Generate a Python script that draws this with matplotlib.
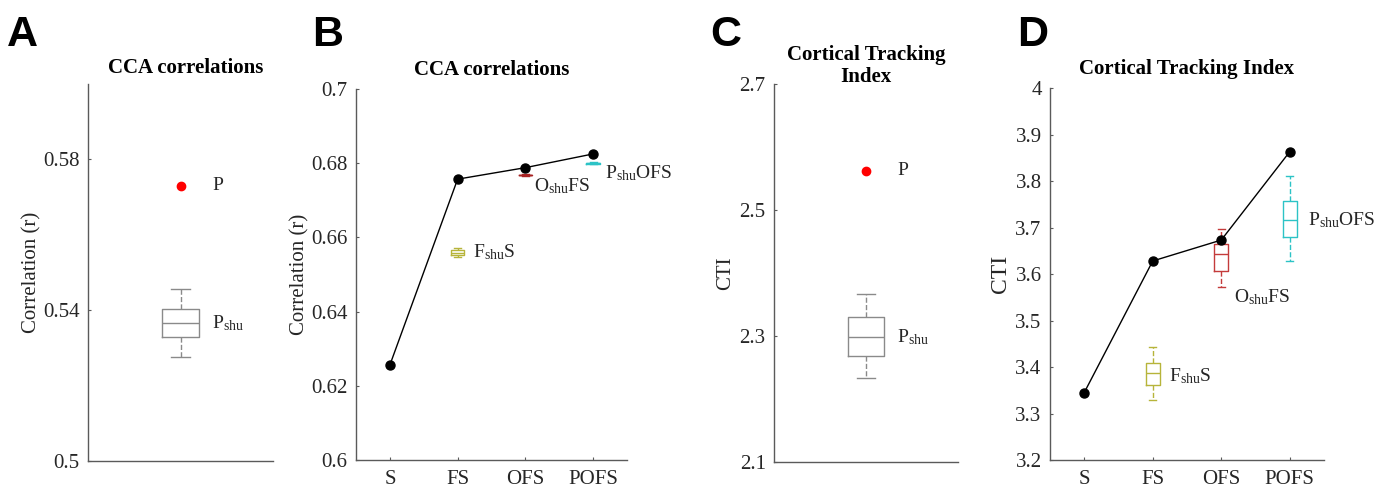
import numpy as np
import matplotlib
matplotlib.use("Agg")
import matplotlib.pyplot as plt

plt.rcParams['font.family'] = ['Liberation Serif', 'DejaVu Serif']
plt.rcParams['mathtext.fontset'] = 'custom'
plt.rcParams['mathtext.rm'] = 'Liberation Serif'
plt.rcParams['mathtext.it'] = 'Liberation Serif:italic'

# ---- data ----
conds = ['S', 'FS', 'OFS', 'POFS']

# A: CCA correlations, intact vs shuffled
cca_P = 0.573
cca_Pshu = dict(whislo=0.5275, q1=0.5328, med=0.5366, q3=0.5403, whishi=0.5456)

# B: CCA correlations per condition
cca_cond = [0.6256, 0.6757, 0.6788, 0.6825]
cca_FshuS = dict(whislo=0.6548, q1=0.6553, med=0.6559, q3=0.6565, whishi=0.6572)
cca_OshuFS = dict(whislo=0.6766, q1=0.6767, med=0.6768, q3=0.6769, whishi=0.6770)
cca_PshuOFS = dict(whislo=0.6798, q1=0.6799, med=0.6800, q3=0.6801, whishi=0.6802)

# C: CTI, intact vs shuffled
cti_P = 2.562
cti_Pshu = dict(whislo=2.233, q1=2.268, med=2.298, q3=2.330, whishi=2.367)

# D: CTI per condition
cti_cond = [3.345, 3.628, 3.673, 3.863]
cti_FshuS = dict(whislo=3.328, q1=3.361, med=3.388, q3=3.409, whishi=3.444)
cti_OshuFS = dict(whislo=3.572, q1=3.607, med=3.643, q3=3.665, whishi=3.697)
cti_PshuOFS = dict(whislo=3.627, q1=3.680, med=3.716, q3=3.758, whishi=3.811)

gray = '#8a8a8a'
olive = '#b7b43a'
red = '#c43b3b'
red_dark = '#a82323'
cyan = '#2cc3c6'
spine_c = '#5a5a5a'
txt_c = '#262626'

fig = plt.figure(figsize=(13.87, 4.9), dpi=100)


def style(ax, fs=15):
    for s in ['top', 'right']:
        ax.spines[s].set_visible(False)
    for s in ['left', 'bottom']:
        ax.spines[s].set_color(spine_c)
        ax.spines[s].set_linewidth(1.0)
    ax.tick_params(direction='in', length=2.5, width=0.8, color=spine_c,
                   labelsize=fs, labelcolor=txt_c, pad=6)
    ax.tick_params(axis='x', pad=7)


def box(ax, pos, st, color, width):
    d = dict(st)
    d['fliers'] = []
    ax.bxp([d], positions=[pos], widths=width, capwidths=width / 2,
           showfliers=False, manage_ticks=False,
           boxprops=dict(color=color, lw=1.0),
           medianprops=dict(color=color, lw=1.0),
           whiskerprops=dict(color=color, lw=1.0, ls='--'),
           capprops=dict(color=color, lw=1.0))


def letter(x, y, s):
    fig.text(x / 1387, 1 - y / 490, s, fontsize=31, fontweight='bold',
             family='Liberation Sans', ha='left', va='center', color='black')


# ---- A ----
axA = fig.add_axes([88 / 1387, 1 - 461 / 490, 185 / 1387, 377 / 490])
style(axA)
axA.set_xlim(0, 2)
axA.set_ylim(0.5, 0.6)
axA.set_yticks([0.5, 0.54, 0.58])
axA.set_yticklabels(['0.5', '0.54', '0.58'])
axA.set_xticks([])
axA.plot([1], [cca_P], 'o', color='#ff0000', ms=6)
box(axA, 1, cca_Pshu, gray, 0.4)
axA.text(1.34, cca_P, 'P', fontsize=14, va='center', color=txt_c)
axA.text(1.34, cca_Pshu['med'], r'P$_{\mathrm{shu}}$', fontsize=14, va='center', color=txt_c)
axA.set_ylabel('Correlation (r)', fontsize=15, color=txt_c, labelpad=1)
axA.text(0.53, 1.042, 'CCA correlations', transform=axA.transAxes, fontsize=15,
         fontweight='bold', ha='center', va='center', color='black')
letter(7, 35, 'A')

# ---- B ----
axB = fig.add_axes([356 / 1387, 1 - 460 / 490, 271 / 1387, 371 / 490])
style(axB)
xs = np.arange(1, len(conds) + 1)
axB.set_xlim(0.5, 4.5)
axB.set_ylim(0.6, 0.7)
axB.set_yticks([0.6, 0.62, 0.64, 0.66, 0.68, 0.7])
axB.set_yticklabels(['0.6', '0.62', '0.64', '0.66', '0.68', '0.7'])
axB.set_xticks(xs)
axB.set_xticklabels(conds)
axB.plot(xs, cca_cond, '-o', color='black', lw=1.0, ms=6.5, zorder=3)
box(axB, 2, cca_FshuS, olive, 0.2)
box(axB, 3, cca_OshuFS, red_dark, 0.2)
box(axB, 4, cca_PshuOFS, cyan, 0.2)
axB.text(2.22, cca_FshuS['med'], r'F$_{\mathrm{shu}}$S', fontsize=14, va='center', color=txt_c)
axB.text(3.12, 0.6738, r'O$_{\mathrm{shu}}$FS', fontsize=14, va='center', color=txt_c)
axB.text(4.17, 0.6774, r'P$_{\mathrm{shu}}$OFS', fontsize=14, va='center', color=txt_c)
axB.set_ylabel('Correlation (r)', fontsize=15, color=txt_c, labelpad=1)
axB.text(0.5, 1.05, 'CCA correlations', transform=axB.transAxes, fontsize=15,
         fontweight='bold', ha='center', va='center', color='black')
letter(312, 35, 'B')

# ---- C ----
axC = fig.add_axes([774 / 1387, 1 - 462 / 490, 184 / 1387, 378 / 490])
style(axC)
axC.set_xlim(0, 2)
axC.set_ylim(2.1, 2.7)
axC.set_yticks([2.1, 2.3, 2.5, 2.7])
axC.set_xticks([])
axC.plot([1], [cti_P], 'o', color='#ff0000', ms=6)
box(axC, 1, cti_Pshu, gray, 0.4)
axC.text(1.34, cti_P, 'P', fontsize=14, va='center', color=txt_c)
axC.text(1.34, cti_Pshu['med'], r'P$_{\mathrm{shu}}$', fontsize=14, va='center', color=txt_c)
axC.set_ylabel('CTI', fontsize=15, color=txt_c, labelpad=3)
axC.text(0.5, 1.047, 'Cortical Tracking\nIndex', transform=axC.transAxes, fontsize=15,
         fontweight='bold', ha='center', va='center', color='black', linespacing=1.1)
letter(710, 35, 'C')

# ---- D ----
axD = fig.add_axes([1050 / 1387, 1 - 460 / 490, 274 / 1387, 372 / 490])
style(axD)
axD.set_xlim(0.5, 4.5)
axD.set_ylim(3.2, 4.0)
axD.set_yticks([3.2, 3.3, 3.4, 3.5, 3.6, 3.7, 3.8, 3.9, 4.0])
axD.set_yticklabels(['3.2', '3.3', '3.4', '3.5', '3.6', '3.7', '3.8', '3.9', '4'])
axD.set_xticks(xs)
axD.set_xticklabels(conds)
box(axD, 2, cti_FshuS, olive, 0.2)
box(axD, 3, cti_OshuFS, red, 0.2)
box(axD, 4, cti_PshuOFS, cyan, 0.2)
axD.plot(xs, cti_cond, '-o', color='black', lw=1.0, ms=6.5, zorder=3)
axD.text(2.24, 3.381, r'F$_{\mathrm{shu}}$S', fontsize=14, va='center', color=txt_c)
axD.text(3.18, 3.551, r'O$_{\mathrm{shu}}$FS', fontsize=14, va='center', color=txt_c)
axD.text(4.27, 3.716, r'P$_{\mathrm{shu}}$OFS', fontsize=14, va='center', color=txt_c)
axD.set_ylabel('CTI', fontsize=17, color=txt_c, labelpad=3)
axD.text(0.5, 1.052, 'Cortical Tracking Index', transform=axD.transAxes, fontsize=15,
         fontweight='bold', ha='center', va='center', color='black')
letter(1017, 35, 'D')

fig.savefig('out.png', dpi=100)
